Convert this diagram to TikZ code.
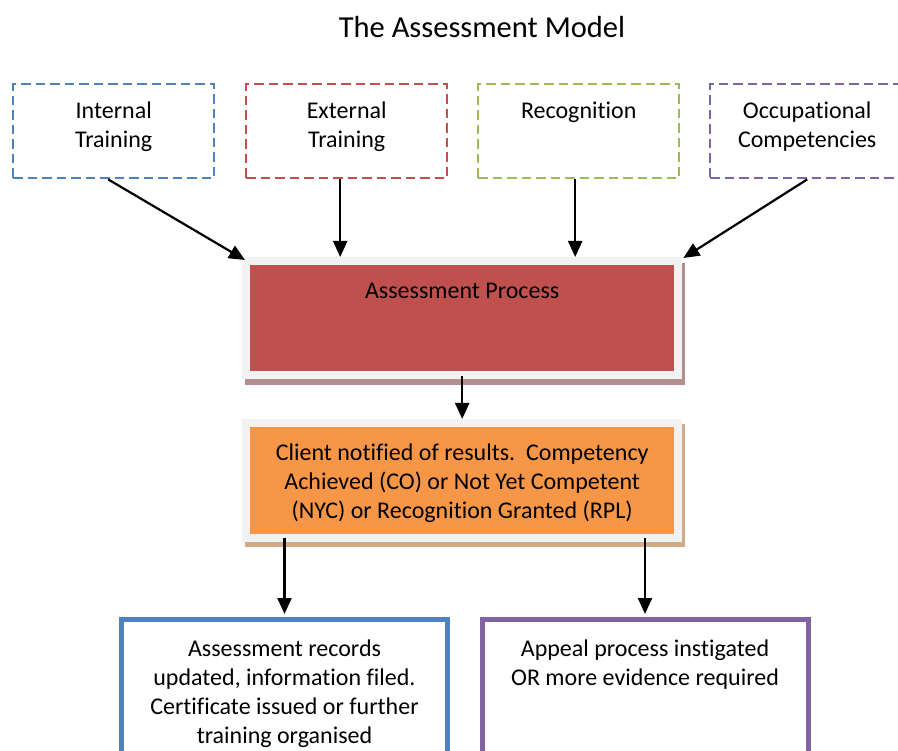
\documentclass[tikz,border=0pt]{standalone}
\usepackage{fontspec}
\setmainfont{Carlito}[Ligatures=CommonOff]
\usetikzlibrary{arrows.meta,shadows}
\definecolor{cblue}{HTML}{4F81BD}
\definecolor{cred}{HTML}{C0504D}
\definecolor{cgreen}{HTML}{9BBB59}
\definecolor{cpurple}{HTML}{8064A2}
\definecolor{corange}{HTML}{F79646}
\definecolor{cframe}{HTML}{F2F2F2}
\definecolor{credshadow}{HTML}{B38F8F}
\definecolor{corashadow}{HTML}{D4A985}
\begin{document}
\begin{tikzpicture}[x=1pt,y=-1pt,
  dbox/.style={draw, line width=2.4pt, dash pattern=on 9.5pt off 5pt, minimum width=201pt, minimum height=94pt, inner sep=0pt, anchor=north west},
  txt/.style={font=\fontsize{24}{29}\selectfont, align=center, inner sep=0pt, anchor=north, execute at begin node=\strut},
  frm/.style={fill=cframe, minimum width=440pt, inner sep=0pt, anchor=north west},
  inbox/.style={minimum width=424pt, minimum height=106pt, inner sep=0pt},
  bbox/.style={draw, line width=5pt, minimum height=153.5pt, inner sep=0pt, anchor=north west},
  arr/.style={-{Triangle[length=16pt,width=14pt]}, line width=2.2pt}
]
\useasboundingbox (0,0) rectangle (898,751);
\clip (0,0) rectangle (898,751);
\fill[white] (0,0) rectangle (898,751);

\node[font=\fontsize{30.5}{36}\selectfont, anchor=base, inner sep=0pt] (title) at (482,38) {The Assessment Model};

% top boxes
\node[dbox, draw=cblue] (int) at (12,83) {};
\node[dbox, draw=cred] (ext) at (245,83) {};
\node[dbox, draw=cgreen] (rec) at (477,83) {};
\node[dbox, draw=cpurple, minimum width=194pt] (occ) at (709,83) {};
\node[txt] (intT) at ([yshift=-18.7pt]int.north) {Internal\\Training};
\node[txt] (extT) at ([yshift=-18.7pt]ext.north) {External\\Training};
\node[txt] (recT) at ([yshift=-14.7pt]rec.north) {Recognition};
\node[txt] (occT) at ([yshift=-18.7pt]occ.north) {Occupational\\Competencies};

% assessment process
\node[frm, minimum height=122pt, general shadow={fill=credshadow, shadow xshift=3pt, shadow yshift=-5.5pt}] (ap) at (242,257) {};
\node[inbox, fill=cred] (apin) at (ap.center) {};
\node[txt] (apT) at ([yshift=-21.2pt]ap.north) {Assessment Process};

% client notified
\node[frm, minimum height=123pt, general shadow={fill=corashadow, shadow xshift=3pt, shadow yshift=-5pt}] (cn) at (242,419) {};
\node[inbox, fill=corange, minimum height=107pt] (cnin) at (cn.center) {};
\node[txt] (cnT) at ([yshift=-24.7pt]cn.north) {Client notified of results.\ \ Competency\\Achieved (CO) or Not Yet Competent\\(NYC) or Recognition Granted (RPL)};

% bottom boxes
\node[bbox, draw=cblue, minimum width=326pt] (ar) at (119,616.5) {};
\node[bbox, draw=cpurple, minimum width=326pt] (apl) at (479.5,616.5) {};
\node[txt] (arT) at ([yshift=-23.2pt]ar.north) {Assessment records\\updated, information filed.\\Certificate issued or further\\training organised};
\node[txt] (aplT) at ([yshift=-23.2pt]apl.north) {Appeal process instigated\\OR more evidence required};

% connectors
\draw[arr] ([xshift=-5.5pt]int.south) -- ([xshift=3pt,yshift=-3pt]ap.north west);
\draw[arr] ([xshift=-6.5pt]ext.south) -- ([xshift=-6.5pt]ext.south |- ap.north);
\draw[arr] ([xshift=-3.5pt]rec.south) -- ([xshift=-3.5pt]rec.south |- ap.north);
\draw[arr] (occ.south) -- ([xshift=1pt,yshift=-1pt]ap.north east);
\draw[arr] ([yshift=3pt]ap.south) -- (cn.north);
\draw[arr] ([yshift=4pt]cn.south -| ar.north) -- ([yshift=2.5pt]ar.north);
\draw[arr] ([yshift=4pt]cn.south -| apl.north) -- ([yshift=2.5pt]apl.north);
\end{tikzpicture}
\end{document}
